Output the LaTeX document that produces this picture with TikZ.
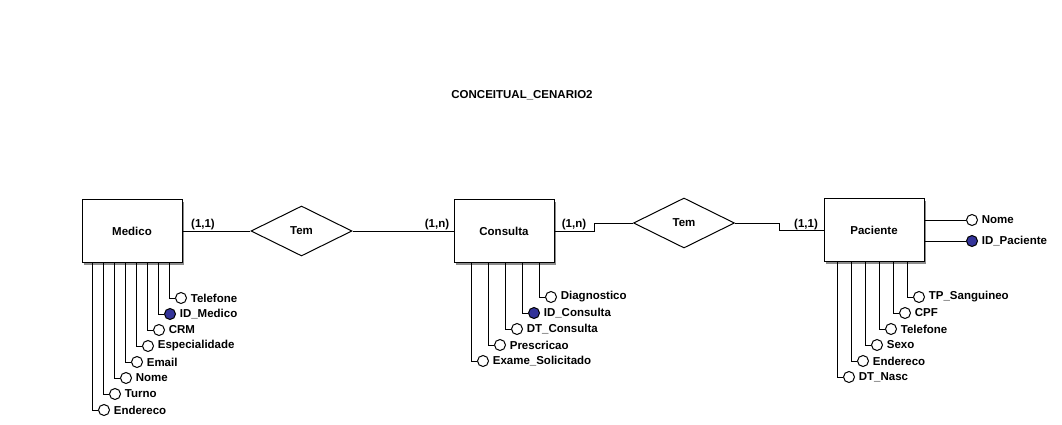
\documentclass[tikz,border=0pt]{standalone}
\usepackage{fontspec}
\setmainfont{Liberation Sans}
\usetikzlibrary{positioning,shapes.geometric,shadows}
\definecolor{keyblue}{RGB}{51,51,153}
\definecolor{shade}{RGB}{140,140,140}

\begin{document}
\begin{tikzpicture}[x=1pt,y=-1pt,line width=1pt,font=\bfseries\fontsize{11.5}{13}\selectfont,
  entity/.style={draw,fill=white,minimum width=100pt,minimum height=63pt,
    drop shadow={shadow xshift=2pt,shadow yshift=-2pt,fill=shade,opacity=1}},
  rel/.style={draw,diamond,aspect=2,inner sep=0pt,minimum width=101pt,minimum height=50pt},
  attr/.style={draw,circle,fill=white,minimum size=11pt,inner sep=0pt,label distance=1pt},
  keyattr/.style={attr,fill=keyblue},
  card/.style={inner sep=1pt,anchor=south}]
\path[fill=white,use as bounding box] (0,0) rectangle (1062,425);
\node (title) at (522,95) {CONCEITUAL\_CENARIO2};

% entidades e relacionamentos
\node[entity] (medico) at (132,231) {Medico};
\node[rel] (tem1) at (301.5,231) {Tem};
\node[entity] (consulta) at (504,231) {Consulta};
\node[rel] (tem2) at (684,223) {Tem};
\node[entity] (paciente) at (874,230) {Paciente};

\draw (medico) -- (tem1);
\draw (tem1) -- (consulta);
\draw (consulta.east) -- ++(40,0) |- (tem2.west);
\draw (tem2.east) -- ++(44,0) |- (paciente.west);
\node[card] (card1) at (203,231) {(1,1)};
\node[card] (card2) at (437,231) {(1,n)};
\node[card] (card3) at (574,231) {(1,n)};
\node[card] (card4) at (806,231) {(1,1)};

% atributos de Medico
\node[attr,label=right:Telefone] (medtel) at (181,298) {};
\node[keyattr,label=right:ID\_Medico] (medid) at (170,314) {};
\node[attr,label=right:CRM] (medcrm) at (159,330) {};
\node[attr,label=right:Especialidade] (medesp) at (148,346) {};
\node[attr,label=right:Email] (medmail) at (137,362) {};
\node[attr,label=right:Nome] (mednome) at (126,378) {};
\node[attr,label=right:Turno] (medturno) at (115,394) {};
\node[attr,label=right:Endereco] (medend) at (104,410) {};
\draw ([xshift=88pt]medico.south west) |- (medtel);
\draw ([xshift=77pt]medico.south west) |- (medid);
\draw ([xshift=66pt]medico.south west) |- (medcrm);
\draw ([xshift=55pt]medico.south west) |- (medesp);
\draw ([xshift=44pt]medico.south west) |- (medmail);
\draw ([xshift=33pt]medico.south west) |- (mednome);
\draw ([xshift=22pt]medico.south west) |- (medturno);
\draw ([xshift=11pt]medico.south west) |- (medend);

% atributos de Consulta
\node[attr,label=right:Diagnostico] (condiag) at (551,297) {};
\node[keyattr,label=right:ID\_Consulta] (conid) at (534,313) {};
\node[attr,label=right:DT\_Consulta] (condt) at (517,329) {};
\node[attr,label=right:Prescricao] (conpresc) at (500,345) {};
\node[attr,label=right:Exame\_Solicitado] (conexame) at (483,361) {};
\draw ([xshift=86pt]consulta.south west) |- (condiag);
\draw ([xshift=69pt]consulta.south west) |- (conid);
\draw ([xshift=52pt]consulta.south west) |- (condt);
\draw ([xshift=35pt]consulta.south west) |- (conpresc);
\draw ([xshift=18pt]consulta.south west) |- (conexame);

% atributos de Paciente
\node[attr,label=right:Nome] (pacnome) at (972,220) {};
\node[keyattr,label=right:ID\_Paciente] (pacid) at (972,241) {};
\draw (pacnome -| paciente.east) -- (pacnome);
\draw (pacid -| paciente.east) -- (pacid);
\node[attr,label=right:TP\_Sanguineo] (pactp) at (919,297) {};
\node[attr,label=right:CPF] (paccpf) at (905,313) {};
\node[attr,label=right:Telefone] (pactel) at (891,329) {};
\node[attr,label=right:Sexo] (pacsexo) at (877,345) {};
\node[attr,label=right:Endereco] (pacend) at (863,361) {};
\node[attr,label=right:DT\_Nasc] (pacnasc) at (849,377) {};
\draw ([xshift=84pt]paciente.south west) |- (pactp);
\draw ([xshift=70pt]paciente.south west) |- (paccpf);
\draw ([xshift=56pt]paciente.south west) |- (pactel);
\draw ([xshift=42pt]paciente.south west) |- (pacsexo);
\draw ([xshift=28pt]paciente.south west) |- (pacend);
\draw ([xshift=14pt]paciente.south west) |- (pacnasc);
\end{tikzpicture}
\end{document}
